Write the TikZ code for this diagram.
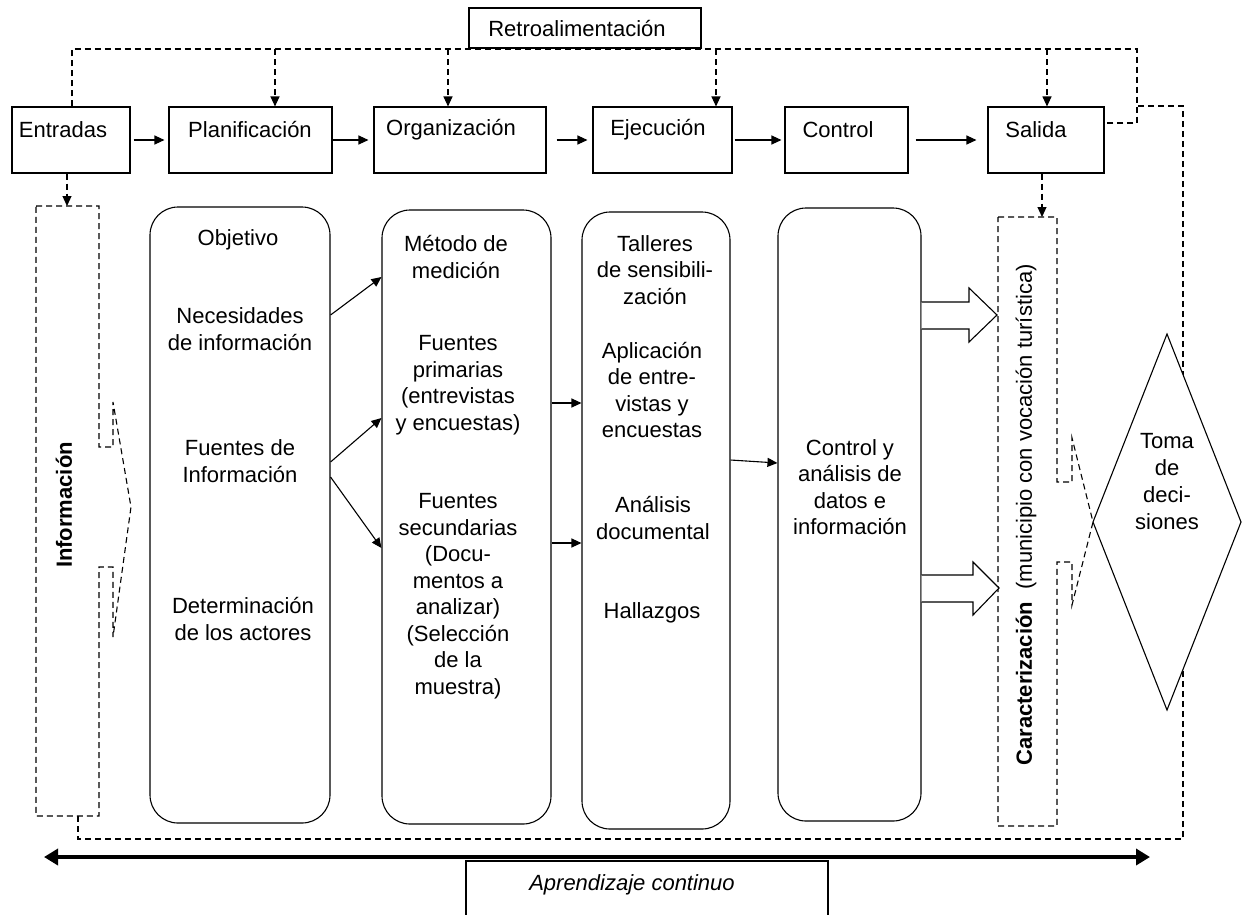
\documentclass[tikz,border=0pt]{standalone}
\usepackage{fontspec}
\setmainfont{Liberation Sans}
\usetikzlibrary{arrows.meta}
\begin{document}
\begin{tikzpicture}[x=1pt,y=-1pt, font=\fontsize{22}{26.5}\selectfont,
 box/.style={draw, line width=1.1pt, inner sep=0pt, minimum height=66pt},
 rbox/.style={draw, line width=1.1pt, rounded corners=28pt, inner sep=0pt},
 dsh/.style={line width=1.1pt, dash pattern=on 6pt off 4pt},
 arr/.style={line width=1.1pt, -{Triangle[length=10pt,width=9pt]}},
 darr/.style={dsh, -{Triangle[length=10pt,width=9pt]}},
 txt/.style={align=center, inner sep=0pt},
]
\useasboundingbox (0,0) rectangle (1250,914);

% feedback and return lines
\coordinate (fbL) at (72,49);
\coordinate (fbR) at (1137,49);
\coordinate (fbR2) at (1137,123);
\coordinate (rr) at (1137,106);
\coordinate (rr2) at (1183,106);
\coordinate (bl) at (78,839);
\coordinate (br) at (1183,839);
\coordinate (t1) at (275,49);
\coordinate (t2) at (448,49);
\coordinate (t3) at (716,49);
\coordinate (t4) at (1047,49);

% top boxes
\node[box, minimum width=118pt] (ent) at (71,140) {};
\node[box, minimum width=163pt] (plan) at (250.5,140) {};
\node[box, minimum width=172pt] (org) at (460,140) {};
\node[box, minimum width=139pt] (ejec) at (662.5,140) {};
\node[box, minimum width=123pt] (ctrl) at (846.5,140) {};
\node[box, minimum width=116pt] (sal) at (1046,140) {};

\node[txt] (entT) at (63,130) {Entradas};
\node[txt] (planT) at (250,130) {Planificación};
\node[txt] (orgT) at (451,130) {Organización};
\node[txt] (ejecT) at (658,130) {Ejecución};
\node[txt] (ctrlT) at (838,130) {Control};
\node[txt] (salT) at (1036,130) {Salida};

\draw[dsh] (ent.north -| fbL) -- (fbL) -- (fbR) -- (fbR2) -- (sal.east |- fbR2);
\draw[darr] (t1) -- (plan.north -| t1);
\draw[darr] (t2) -- (org.north -| t2);
\draw[darr] (t3) -- (ejec.north -| t3);
\draw[darr] (t4) -- (sal.north -| t4);

\node[draw, line width=1.1pt, fill=white, minimum width=232pt, minimum height=40pt, inner sep=0pt] (retro) at (585,28) {};
\node[txt] (retroT) at (577,29) {Retroalimentación};

\draw[arr, shorten <=3pt, shorten >=4pt] (ent) -- (plan);
\draw[arr, shorten >=5pt] (plan) -- (org);
\draw[arr, shorten <=10pt, shorten >=5pt] (org) -- (ejec);
\draw[arr, shorten <=2pt, shorten >=3pt] (ejec) -- (ctrl);
\draw[arr, shorten <=7pt, shorten >=11pt] (ctrl) -- (sal);

% return line (behind diamond)
\draw[dsh] (78,816) -- (bl) -- (br) -- (rr2) -- (rr);

% Informacion shape
\draw[dsh] (36,206) -- (99,206) -- (99,447) -- (113,447) -- (113,402) -- (131,507)
  -- (113,637) -- (113,567) -- (99,567) -- (99,816) -- (36,816) -- cycle;
\coordinate (infoTop) at (67,206);
\draw[darr] (ent.south -| infoTop) -- (infoTop);
\node[txt, rotate=90, font=\fontsize{22}{26.5}\selectfont\bfseries] (infoT) at (64,505) {Información};

% Caracterizacion shape
\draw[dsh] (998,217) -- (1057,217) -- (1057,482) -- (1072,482) -- (1072,438) -- (1093,522)
  -- (1072,605) -- (1072,562) -- (1057,562) -- (1057,826) -- (998,826) -- cycle;
\coordinate (carTop) at (1042,217);
\draw[darr] (sal.south -| carTop) -- (carTop);
\node[txt, rotate=90] (carT) at (1026,515) {\textbf{Caracterización}\ \ (municipio con vocación turística)};

% diamond
\draw[line width=1.1pt, fill=white] (1167,334) -- (1241,522) -- (1167,710) -- (1093,522) -- cycle;
\node[txt, font=\fontsize{22}{27}\selectfont] (toma) at (1167,482) {Toma\\de\\deci-\\siones};

% rounded boxes
\node[rbox, minimum width=180pt, minimum height=616pt] (pl2) at (240,515) {};
\node[rbox, minimum width=169pt, minimum height=614pt] (og2) at (466.5,517) {};
\node[rbox, minimum width=148pt, minimum height=617pt] (ej2) at (656,520.5) {};
\node[rbox, minimum width=143pt, minimum height=613pt] (ct2) at (849.5,514.5) {};

\node[txt] (p1) at (238,240) {Objetivo};
\node[txt] (p2) at (240,329) {Necesidades\\de información};
\node[txt] (p3) at (240,461) {Fuentes de\\Información};
\node[txt] (p4) at (243,619) {Determinación\\de los actores};

\node[txt] (o1) at (456,257) {Método de\\medición};
\node[txt] (o2) at (458,385) {Fuentes\\primarias\\(entrevistas\\y encuestas)};
\node[txt] (o3) at (458,596) {Fuentes\\secundarias\\(Docu-\\mentos a\\analizar)\\(Selección\\de la\\muestra)};

\node[txt] (e1) at (655,270) {Talleres\\de sensibili-\\zación};
\node[txt] (e2) at (652,390) {Aplicación\\de entre-\\vistas y\\encuestas};
\node[txt] (e3) at (653,518) {Análisis\\documental};
\node[txt] (e4) at (652,613) {Hallazgos};

\node[txt] (c1) at (850,487) {Control y\\análisis de\\datos e\\información};

\draw[arr] (pl2.east |- 0,315) -- (og2.west |- 0,277);
\draw[arr] (pl2.east |- 0,462) -- (og2.west |- 0,418);
\draw[arr] (pl2.east |- 0,477) -- (og2.west |- 0,548);
\draw[arr] (og2.east |- 0,403) -- (ej2.west |- 0,403);
\draw[arr] (og2.east |- 0,543) -- (ej2.west |- 0,543);
\draw[arr] (ej2.east |- 0,460) -- (ct2.west |- 0,463);

% block arrows
\draw[line width=1.1pt, fill=white] (ct2.east |- 0,302) -- (969,302) -- (969,288) -- (997,315)
  -- (969,342) -- (969,329) -- (ct2.east |- 0,329);
\draw[line width=1.1pt, fill=white] (ct2.east |- 0,575) -- (973,575) -- (973,562) -- (999,588)
  -- (973,615) -- (973,602) -- (ct2.east |- 0,602);

% continuous learning
\draw[line width=4pt, {Triangle[length=14pt,width=16pt]}-{Triangle[length=14pt,width=16pt]}] (44,857) -- (1150,857);
\draw[line width=1.1pt] (466,916) -- (466,861) -- (828,861) -- (828,916);
\node[txt, font=\fontsize{22}{26.5}\selectfont\itshape] (apr) at (632,885) {Aprendizaje continuo};
\end{tikzpicture}
\end{document}
